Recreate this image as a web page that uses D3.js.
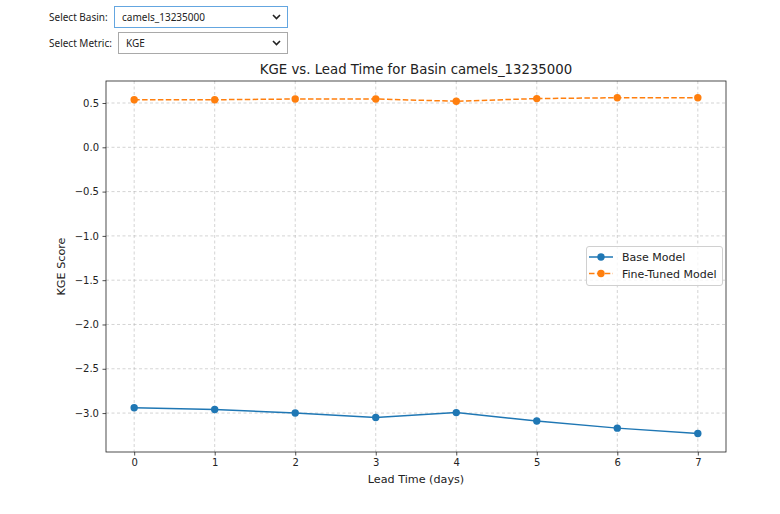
<!DOCTYPE html>
<html>
<head>
<meta charset="utf-8">
<script src="https://cdn.jsdelivr.net/npm/d3@7"></script>
<style>
  body { margin: 0; background: #fff; }
  svg { display: block; }
  .tick text { font-family: "DejaVu Sans", sans-serif; font-size: 10px; fill: #222; }
  .grid line { stroke: #b0b0b0; stroke-opacity: 0.55; stroke-dasharray: 3,2.5; }
  .widget { font-family: "Noto Sans", "Open Sans", sans-serif; font-size: 10px; fill: #222; }
</style>
</head>
<body>
<div id="chart"></div>
<script>
var leadDays = [0, 1, 2, 3, 4, 5, 6, 7];
var baseModel = [-2.94, -2.96, -3.00, -3.05, -2.995, -3.09, -3.17, -3.23];
var fineTuned = [0.537, 0.537, 0.545, 0.545, 0.52, 0.55, 0.56, 0.56];
var yTicks = [0.5, 0.0, -0.5, -1.0, -1.5, -2.0, -2.5, -3.0];
var seriesNames = ['Base Model', 'Fine-Tuned Model'];
var seriesColors = ['#1f77b4', '#ff7f0e'];
var basinName = 'camels_13235000';
var metricName = 'KGE';

var width = 780, height = 514;
var margin = {top: 81, right: 54, bottom: 62, left: 106};

var svg = d3.select('#chart').append('svg')
    .attr('width', width)
    .attr('height', height);

// dropdown widgets
var drawSelect = function(label, value, boxX, y, focused) {
    svg.append('text').attr('class', 'widget')
        .attr('x', 49).attr('y', y + 14.5)
        .text(label);
    svg.append('rect')
        .attr('x', boxX + 0.5).attr('y', y + 0.5)
        .attr('width', 287 - boxX).attr('height', 21)
        .attr('fill', '#fff')
        .attr('stroke', focused ? '#64a6e0' : '#a9a9a9')
        .attr('stroke-width', 1);
    svg.append('text').attr('class', 'widget')
        .attr('x', boxX + 8).attr('y', y + 14.5)
        .text(value);
    svg.append('path')
        .attr('d', 'M' + 273 + ',' + (y + 9) + 'l3.5,3.5l3.5,-3.5')
        .attr('fill', 'none').attr('stroke', '#222').attr('stroke-width', 1.6);
};
drawSelect('Select Basin:', basinName, 114, 6, true);
drawSelect('Select Metric:', metricName, 118, 32, false);

var x = d3.scaleLinear()
    .domain([-0.35, 7.35])
    .range([margin.left, width - margin.right]);

var y = d3.scaleLinear()
    .domain([-3.4395, 0.7485])
    .range([height - margin.bottom, margin.top]);

var fmt = function(d) { return d3.format('.1f')(d).replace('-', '\u2212'); };

// grid
svg.append('g').attr('class', 'grid')
    .selectAll('line').data(leadDays).enter().append('line')
    .attr('x1', function(d) { return x(d); }).attr('x2', function(d) { return x(d); })
    .attr('y1', margin.top).attr('y2', height - margin.bottom);
svg.append('g').attr('class', 'grid')
    .selectAll('line').data(yTicks).enter().append('line')
    .attr('x1', margin.left).attr('x2', width - margin.right)
    .attr('y1', function(d) { return y(d); }).attr('y2', function(d) { return y(d); });

// axes
var xAxis = svg.append('g')
    .attr('transform', 'translate(0,' + (height - margin.bottom) + ')')
    .call(d3.axisBottom(x).tickValues(leadDays).tickSize(3.5).tickPadding(3.5).tickFormat(d3.format('d')));
var yAxis = svg.append('g')
    .attr('transform', 'translate(' + margin.left + ',0)')
    .call(d3.axisLeft(y).tickValues(yTicks).tickSize(3.5).tickPadding(3.5).tickFormat(fmt));
xAxis.select('.domain').remove();
yAxis.select('.domain').remove();
svg.selectAll('.tick line').attr('stroke', '#222').attr('stroke-width', 0.8);

svg.append('rect')
    .attr('x', margin.left).attr('y', margin.top)
    .attr('width', width - margin.right - margin.left)
    .attr('height', height - margin.bottom - margin.top)
    .attr('fill', 'none').attr('stroke', '#222').attr('stroke-width', 0.8);

// lines
var line = d3.line()
    .x(function(d, i) { return x(leadDays[i]); })
    .y(function(d) { return y(d); });

[baseModel, fineTuned].forEach(function(series, s) {
    svg.append('path')
        .datum(series)
        .attr('d', line)
        .attr('fill', 'none')
        .attr('stroke', seriesColors[s])
        .attr('stroke-width', 1.5)
        .attr('stroke-dasharray', s === 1 ? '5.5,2.4' : null);
    svg.append('g').selectAll('circle').data(series).enter().append('circle')
        .attr('cx', function(d, i) { return x(leadDays[i]); })
        .attr('cy', function(d) { return y(d); })
        .attr('r', 3.7)
        .attr('fill', seriesColors[s]);
});

// title and labels
svg.append('text')
    .attr('x', (margin.left + width - margin.right) / 2).attr('y', 74)
    .attr('text-anchor', 'middle')
    .attr('font-family', 'DejaVu Sans, sans-serif').attr('font-size', 13.3)
    .attr('fill', '#222')
    .text(metricName + ' vs. Lead Time for Basin ' + basinName);
svg.append('text')
    .attr('x', (margin.left + width - margin.right) / 2).attr('y', 483)
    .attr('text-anchor', 'middle')
    .attr('font-family', 'DejaVu Sans, sans-serif').attr('font-size', 11.2)
    .attr('fill', '#222')
    .text('Lead Time (days)');
svg.append('text')
    .attr('transform', 'translate(65,' + ((margin.top + height - margin.bottom) / 2) + ') rotate(-90)')
    .attr('text-anchor', 'middle')
    .attr('font-family', 'DejaVu Sans, sans-serif').attr('font-size', 11.2)
    .attr('fill', '#222')
    .text(metricName + ' Score');

// legend
var legend = svg.append('g').attr('transform', 'translate(586,246)');
legend.append('rect')
    .attr('x', 0.5).attr('y', 0.5).attr('width', 136).attr('height', 39).attr('rx', 2.5)
    .attr('fill', '#fff').attr('fill-opacity', 0.8)
    .attr('stroke', '#d0d0d0');
seriesNames.forEach(function(name, i) {
    var ly = 11 + i * 16.5;
    legend.append('line')
        .attr('x1', 3).attr('x2', 27).attr('y1', ly).attr('y2', ly)
        .attr('stroke', seriesColors[i]).attr('stroke-width', 1.5)
        .attr('stroke-dasharray', i === 1 ? '5.5,2.4' : null);
    legend.append('circle')
        .attr('cx', 15).attr('cy', ly).attr('r', 3.7).attr('fill', seriesColors[i]);
    legend.append('text')
        .attr('x', 36).attr('y', ly + 4)
        .attr('font-family', 'DejaVu Sans, sans-serif').attr('font-size', 11)
        .attr('fill', '#222')
        .text(name);
});
</script>
</body>
</html>
